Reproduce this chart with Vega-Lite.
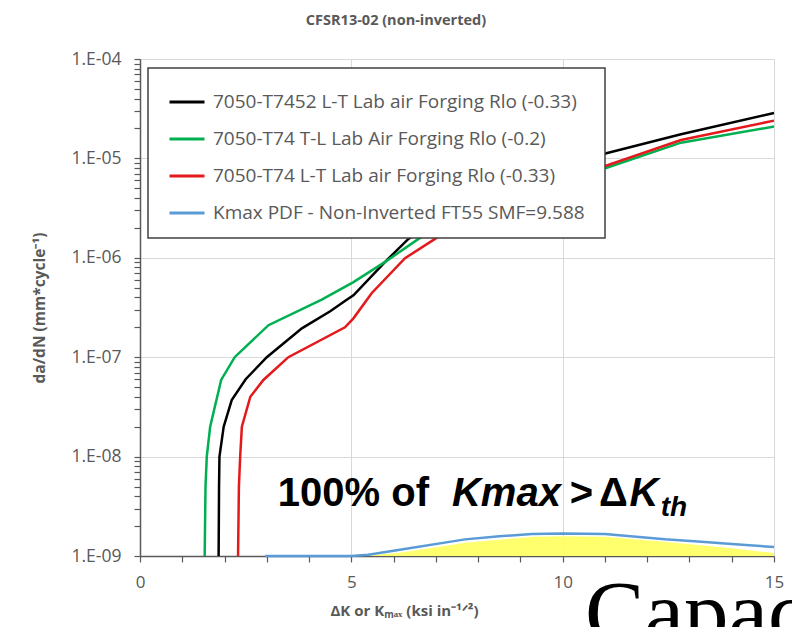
{
  "$schema": "https://vega.github.io/schema/vega-lite/v6.json",
  "width": 634,
  "height": 497,
  "autosize": {"type": "none"},
  "padding": {"left": 140, "top": 59, "right": 18, "bottom": 71},
  "background": "white",
  "title": {"text": "CFSR13-02 (non-inverted)", "anchor": "middle", "dx": -61, "offset": 22, "fontSize": 14.5, "font": "Open Sans", "fontWeight": "bold", "color": "#595959"},
  "config": {"view": {"stroke": null}},
  "datasets": {
    "curves": [
      {"series": "7050-T7452 L-T Lab air Forging Rlo (-0.33)", "x": 1.86, "y": 1e-9},
      {"series": "7050-T7452 L-T Lab air Forging Rlo (-0.33)", "x": 1.87, "y": 5e-9},
      {"series": "7050-T7452 L-T Lab air Forging Rlo (-0.33)", "x": 1.88, "y": 1e-8},
      {"series": "7050-T7452 L-T Lab air Forging Rlo (-0.33)", "x": 1.98, "y": 2e-8},
      {"series": "7050-T7452 L-T Lab air Forging Rlo (-0.33)", "x": 2.17, "y": 3.7e-8},
      {"series": "7050-T7452 L-T Lab air Forging Rlo (-0.33)", "x": 2.5, "y": 6e-8},
      {"series": "7050-T7452 L-T Lab air Forging Rlo (-0.33)", "x": 3.0, "y": 1e-7},
      {"series": "7050-T7452 L-T Lab air Forging Rlo (-0.33)", "x": 3.83, "y": 1.95e-7},
      {"series": "7050-T7452 L-T Lab air Forging Rlo (-0.33)", "x": 4.5, "y": 2.9e-7},
      {"series": "7050-T7452 L-T Lab air Forging Rlo (-0.33)", "x": 4.9, "y": 3.8e-7},
      {"series": "7050-T7452 L-T Lab air Forging Rlo (-0.33)", "x": 5.05, "y": 4.2e-7},
      {"series": "7050-T7452 L-T Lab air Forging Rlo (-0.33)", "x": 5.8, "y": 9.1e-7},
      {"series": "7050-T7452 L-T Lab air Forging Rlo (-0.33)", "x": 6.35, "y": 1.55e-6},
      {"series": "7050-T7452 L-T Lab air Forging Rlo (-0.33)", "x": 8.0, "y": 4.5e-6},
      {"series": "7050-T7452 L-T Lab air Forging Rlo (-0.33)", "x": 9.5, "y": 7.8e-6},
      {"series": "7050-T7452 L-T Lab air Forging Rlo (-0.33)", "x": 10.87, "y": 1.08e-5},
      {"series": "7050-T7452 L-T Lab air Forging Rlo (-0.33)", "x": 12.8, "y": 1.75e-5},
      {"series": "7050-T7452 L-T Lab air Forging Rlo (-0.33)", "x": 15.0, "y": 2.86e-5},
      {"series": "7050-T74 T-L Lab Air Forging Rlo (-0.2)", "x": 1.53, "y": 1e-9},
      {"series": "7050-T74 T-L Lab Air Forging Rlo (-0.2)", "x": 1.55, "y": 5e-9},
      {"series": "7050-T74 T-L Lab Air Forging Rlo (-0.2)", "x": 1.58, "y": 1e-8},
      {"series": "7050-T74 T-L Lab Air Forging Rlo (-0.2)", "x": 1.66, "y": 2e-8},
      {"series": "7050-T74 T-L Lab Air Forging Rlo (-0.2)", "x": 1.92, "y": 5.9e-8},
      {"series": "7050-T74 T-L Lab Air Forging Rlo (-0.2)", "x": 2.24, "y": 1e-7},
      {"series": "7050-T74 T-L Lab Air Forging Rlo (-0.2)", "x": 3.04, "y": 2.1e-7},
      {"series": "7050-T74 T-L Lab Air Forging Rlo (-0.2)", "x": 4.3, "y": 3.8e-7},
      {"series": "7050-T74 T-L Lab Air Forging Rlo (-0.2)", "x": 5.05, "y": 5.7e-7},
      {"series": "7050-T74 T-L Lab Air Forging Rlo (-0.2)", "x": 5.8, "y": 9.1e-7},
      {"series": "7050-T74 T-L Lab Air Forging Rlo (-0.2)", "x": 6.59, "y": 1.55e-6},
      {"series": "7050-T74 T-L Lab Air Forging Rlo (-0.2)", "x": 8.0, "y": 3.6e-6},
      {"series": "7050-T74 T-L Lab Air Forging Rlo (-0.2)", "x": 9.5, "y": 5.9e-6},
      {"series": "7050-T74 T-L Lab Air Forging Rlo (-0.2)", "x": 10.87, "y": 7.6e-6},
      {"series": "7050-T74 T-L Lab Air Forging Rlo (-0.2)", "x": 12.8, "y": 1.44e-5},
      {"series": "7050-T74 T-L Lab Air Forging Rlo (-0.2)", "x": 15.0, "y": 2.09e-5},
      {"series": "7050-T74 L-T Lab air Forging Rlo (-0.33)", "x": 2.32, "y": 1e-9},
      {"series": "7050-T74 L-T Lab air Forging Rlo (-0.33)", "x": 2.34, "y": 5e-9},
      {"series": "7050-T74 L-T Lab air Forging Rlo (-0.33)", "x": 2.37, "y": 1e-8},
      {"series": "7050-T74 L-T Lab air Forging Rlo (-0.33)", "x": 2.41, "y": 2e-8},
      {"series": "7050-T74 L-T Lab air Forging Rlo (-0.33)", "x": 2.61, "y": 4e-8},
      {"series": "7050-T74 L-T Lab air Forging Rlo (-0.33)", "x": 2.92, "y": 5.9e-8},
      {"series": "7050-T74 L-T Lab air Forging Rlo (-0.33)", "x": 3.51, "y": 1e-7},
      {"series": "7050-T74 L-T Lab air Forging Rlo (-0.33)", "x": 4.85, "y": 2.0e-7},
      {"series": "7050-T74 L-T Lab air Forging Rlo (-0.33)", "x": 5.05, "y": 2.46e-7},
      {"series": "7050-T74 L-T Lab air Forging Rlo (-0.33)", "x": 5.48, "y": 4.4e-7},
      {"series": "7050-T74 L-T Lab air Forging Rlo (-0.33)", "x": 6.27, "y": 9.9e-7},
      {"series": "7050-T74 L-T Lab air Forging Rlo (-0.33)", "x": 6.98, "y": 1.55e-6},
      {"series": "7050-T74 L-T Lab air Forging Rlo (-0.33)", "x": 8.0, "y": 3.2e-6},
      {"series": "7050-T74 L-T Lab air Forging Rlo (-0.33)", "x": 9.5, "y": 5.8e-6},
      {"series": "7050-T74 L-T Lab air Forging Rlo (-0.33)", "x": 10.87, "y": 8.0e-6},
      {"series": "7050-T74 L-T Lab air Forging Rlo (-0.33)", "x": 12.8, "y": 1.53e-5},
      {"series": "7050-T74 L-T Lab air Forging Rlo (-0.33)", "x": 15.0, "y": 2.4e-5},
      {"series": "Kmax PDF -  Non-Inverted FT55 SMF=9.588", "x": 2.96, "y": 1e-9},
      {"series": "Kmax PDF -  Non-Inverted FT55 SMF=9.588", "x": 5.0, "y": 1e-9},
      {"series": "Kmax PDF -  Non-Inverted FT55 SMF=9.588", "x": 5.4, "y": 1.03e-9},
      {"series": "Kmax PDF -  Non-Inverted FT55 SMF=9.588", "x": 6.11, "y": 1.15e-9},
      {"series": "Kmax PDF -  Non-Inverted FT55 SMF=9.588", "x": 7.69, "y": 1.47e-9},
      {"series": "Kmax PDF -  Non-Inverted FT55 SMF=9.588", "x": 8.5, "y": 1.58e-9},
      {"series": "Kmax PDF -  Non-Inverted FT55 SMF=9.588", "x": 9.27, "y": 1.66e-9},
      {"series": "Kmax PDF -  Non-Inverted FT55 SMF=9.588", "x": 10.0, "y": 1.68e-9},
      {"series": "Kmax PDF -  Non-Inverted FT55 SMF=9.588", "x": 11.0, "y": 1.66e-9},
      {"series": "Kmax PDF -  Non-Inverted FT55 SMF=9.588", "x": 12.42, "y": 1.47e-9},
      {"series": "Kmax PDF -  Non-Inverted FT55 SMF=9.588", "x": 13.2, "y": 1.4e-9},
      {"series": "Kmax PDF -  Non-Inverted FT55 SMF=9.588", "x": 14.0, "y": 1.32e-9},
      {"series": "Kmax PDF -  Non-Inverted FT55 SMF=9.588", "x": 15.0, "y": 1.23e-9}
    ],
    "fill": [
      {"x": 5.25, "y": 1e-9, "base": 1e-9},
      {"x": 6.1, "y": 1.07e-9, "base": 1e-9},
      {"x": 7.7, "y": 1.36e-9, "base": 1e-9},
      {"x": 9.3, "y": 1.56e-9, "base": 1e-9},
      {"x": 10.0, "y": 1.58e-9, "base": 1e-9},
      {"x": 11.0, "y": 1.56e-9, "base": 1e-9},
      {"x": 12.4, "y": 1.39e-9, "base": 1e-9},
      {"x": 14.0, "y": 1.2e-9, "base": 1e-9},
      {"x": 15.0, "y": 1.07e-9, "base": 1e-9}
    ],
    "notes": [
      {"kind": "up", "label": "100% of", "x": 3.26, "y": 3.21e-9},
      {"kind": "it", "label": "Kmax", "x": 7.38, "y": 3.21e-9},
      {"kind": "up", "label": ">", "x": 10.17, "y": 3.21e-9},
      {"kind": "up", "label": "Δ", "x": 10.86, "y": 3.21e-9},
      {"kind": "it", "label": "K", "x": 11.58, "y": 3.21e-9},
      {"kind": "sub", "label": "th", "x": 12.32, "y": 2.55e-9},
      {"kind": "serif", "label": "Capacity", "x": 10.53, "y": 1.36e-10}
    ]
  },
  "layer": [
    {
      "data": {"name": "fill"},
      "mark": {"type": "area", "color": "#ffff66", "opacity": 0.95},
      "encoding": {
        "x": {"field": "x", "type": "quantitative", "scale": {"domain": [0, 15], "nice": false, "zero": false},
          "axis": {
            "title": "ΔK or Kₘₐₓ (ksi in⁻¹ᐟ²)",
            "values": [0,1,2,3,4,5,6,7,8,9,10,11,12,13,14,15],
            "labelExpr": "datum.value % 5 == 0 ? datum.value : ''",
            "gridOpacity": {"condition": {"test": "datum.value % 5 == 0 && datum.value > 0", "value": 1}, "value": 0},
            "gridColor": "#d9d9d9", "gridWidth": 1,
            "domainColor": "#595959", "domainWidth": 1.5,
            "tickColor": "#595959", "tickSize": 6, "tickWidth": 1.2,
            "labelFont": "Open Sans", "labelFontSize": 17, "labelColor": "#595959", "labelPadding": 12, "labelOverlap": false, "labelFlush": false,
            "titleFont": "Open Sans", "titleFontSize": 15, "titleFontWeight": "bold", "titleColor": "#595959", "titlePadding": 13, "titleX": 264
          }},
        "y": {"field": "y", "type": "quantitative", "scale": {"type": "log", "domain": [1e-9, 1e-4], "nice": false},
          "axis": {
            "title": "da/dN (mm*cycle⁻¹)",
            "values": [1e-9,2e-9,3e-9,4e-9,5e-9,6e-9,7e-9,8e-9,9e-9,1e-8,2e-8,3e-8,4e-8,5e-8,6e-8,7e-8,8e-8,9e-8,1e-7,2e-7,3e-7,4e-7,5e-7,6e-7,7e-7,8e-7,9e-7,1e-6,2e-6,3e-6,4e-6,5e-6,6e-6,7e-6,8e-6,9e-6,1e-5,2e-5,3e-5,4e-5,5e-5,6e-5,7e-5,8e-5,9e-5,1e-4],
            "labelExpr": "abs(log(datum.value)/LN10 - round(log(datum.value)/LN10)) < 0.001 ? '1.E-0' + (-round(log(datum.value)/LN10)) : ''",
            "gridOpacity": {"condition": {"test": "abs(log(datum.value)/LN10 - round(log(datum.value)/LN10)) < 0.001", "value": 1}, "value": 0},
            "gridColor": "#d9d9d9", "gridWidth": 1,
            "domainColor": "#595959", "domainWidth": 1.5,
            "tickColor": "#595959", "tickSize": 6, "tickWidth": 1.2,
            "labelFont": "Open Sans", "labelFontSize": 17.5, "labelColor": "#595959", "labelPadding": 13, "labelOverlap": false, "labelFlush": false, "labelBound": false,
            "titleFont": "Open Sans", "titleFontSize": 15.5, "titleFontWeight": "bold", "titleColor": "#595959", "titlePadding": 24
          }},
        "y2": {"field": "base"}
      }
    },
    {
      "data": {"name": "curves"},
      "mark": {"type": "line", "strokeWidth": 2.5},
      "encoding": {
        "x": {"field": "x", "type": "quantitative"},
        "y": {"field": "y", "type": "quantitative"},
        "color": {"field": "series", "type": "nominal",
          "scale": {"domain": ["7050-T7452 L-T Lab air Forging Rlo (-0.33)", "7050-T74 T-L Lab Air Forging Rlo (-0.2)", "7050-T74 L-T Lab air Forging Rlo (-0.33)", "Kmax PDF -  Non-Inverted FT55 SMF=9.588"],
                    "range": ["#000000", "#00b050", "#e3191c", "#5b9bd5"]},
          "legend": {"orient": "none", "legendX": 8, "legendY": 9, "title": null, "symbolType": "stroke", "symbolSize": 1225, "symbolStrokeWidth": 3, "symbolOffset": 5,
            "labelFont": "Open Sans", "labelFontSize": 19, "labelColor": "#595959", "labelLimit": 600, "labelOffset": 7,
            "padding": 15, "rowPadding": 8, "fillColor": "white", "strokeColor": "#404040",
            "encode": {"legend": {"update": {"strokeWidth": {"value": 1.5}}}}}}
      }
    },
    {
      "data": {"name": "notes"},
      "transform": [{"filter": "datum.kind == 'up'"}],
      "mark": {"type": "text", "align": "left", "baseline": "alphabetic", "font": "Liberation Sans", "fontSize": 40, "fontWeight": "bold", "color": "#000000"},
      "encoding": {"x": {"field": "x", "type": "quantitative"}, "y": {"field": "y", "type": "quantitative"}, "text": {"field": "label"}}
    },
    {
      "data": {"name": "notes"},
      "transform": [{"filter": "datum.kind == 'it'"}],
      "mark": {"type": "text", "align": "left", "baseline": "alphabetic", "font": "Liberation Sans", "fontSize": 40, "fontWeight": "bold", "fontStyle": "italic", "color": "#000000"},
      "encoding": {"x": {"field": "x", "type": "quantitative"}, "y": {"field": "y", "type": "quantitative"}, "text": {"field": "label"}}
    },
    {
      "data": {"name": "notes"},
      "transform": [{"filter": "datum.kind == 'sub'"}],
      "mark": {"type": "text", "align": "left", "baseline": "alphabetic", "font": "Liberation Sans", "fontSize": 28, "fontWeight": "bold", "fontStyle": "italic", "color": "#000000"},
      "encoding": {"x": {"field": "x", "type": "quantitative"}, "y": {"field": "y", "type": "quantitative"}, "text": {"field": "label"}}
    },
    {
      "data": {"name": "notes"},
      "transform": [{"filter": "datum.kind == 'serif'"}],
      "mark": {"type": "text", "align": "left", "baseline": "alphabetic", "font": "Liberation Serif", "fontSize": 89, "color": "#000000"},
      "encoding": {"x": {"field": "x", "type": "quantitative"}, "y": {"field": "y", "type": "quantitative"}, "text": {"field": "label"}}
    }
  ]
}
